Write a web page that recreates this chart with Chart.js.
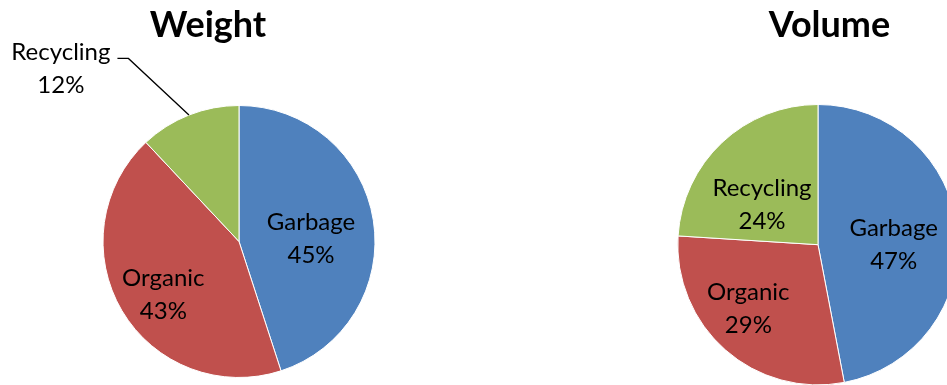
<!DOCTYPE html>
<html>
<head>
<meta charset="utf-8">
<script src="https://cdn.jsdelivr.net/npm/chart.js@4.4.0/dist/chart.umd.min.js"></script>
<style>
  html, body { margin: 0; padding: 0; background: #fff; }
  body { position: relative; width: 947px; height: 385px; overflow: hidden; }
  canvas { position: absolute; top: 0; }
  #weightChart { left: 0; }
  #volumeChart { left: 560px; }
</style>
</head>
<body>
<canvas id="weightChart" width="420" height="385"></canvas>
<canvas id="volumeChart" width="420" height="392"></canvas>
<script>
var categories = ['Garbage', 'Organic', 'Recycling'];
var weightShare = [45, 43, 12];
var volumeShare = [47, 29, 24];
var sliceColors = ['#4F81BD', '#C0504D', '#9BBB59'];

var labelFont = '24px Lato';

// title drawn at a fixed x, since the chart title plugin always centres over the pie
var panelTitle = {
  id: 'panelTitle',
  afterDraw: function (chart, args, opts) {
    var ctx = chart.ctx;
    ctx.save();
    ctx.font = 'bold 36px Lato';
    ctx.fillStyle = '#000';
    ctx.textAlign = 'center';
    ctx.textBaseline = 'alphabetic';
    ctx.fillText(opts.text, opts.x, opts.y);
    ctx.restore();
  }
};

// "Name NN%" labels inside the slices, or outside with a leader line
var sliceLabels = {
  id: 'sliceLabels',
  afterDatasetsDraw: function (chart, args, opts) {
    var ctx = chart.ctx;
    var meta = chart.getDatasetMeta(0);
    var values = chart.data.datasets[0].data;
    var total = values.reduce(function (a, b) { return a + b; }, 0);
    ctx.save();
    ctx.font = labelFont;
    ctx.fillStyle = '#000';
    ctx.textAlign = 'center';
    ctx.textBaseline = 'middle';
    meta.data.forEach(function (arc, i) {
      var p = arc.getProps(['x', 'y', 'startAngle', 'endAngle', 'outerRadius'], true);
      var mid = (p.startAngle + p.endAngle) / 2;
      var lines = [chart.data.labels[i], Math.round(values[i] / total * 100) + '%'];
      var place = opts.placement[i];
      if (place.callout) {
        var ex = p.x + Math.cos(mid) * p.outerRadius;
        var ey = p.y + Math.sin(mid) * p.outerRadius;
        var bx = ex + place.callout.dx;
        var by = ey + place.callout.dy;
        var tx = bx - place.callout.tail;
        ctx.strokeStyle = '#000';
        ctx.lineWidth = 1.3;
        ctx.beginPath();
        ctx.moveTo(ex, ey);
        ctx.lineTo(bx, by);
        ctx.lineTo(tx, by);
        ctx.stroke();
        var w = Math.max(ctx.measureText(lines[0]).width, ctx.measureText(lines[1]).width);
        var cx = tx - 7 - w / 2;
        ctx.fillText(lines[0], cx, by - 6);
        ctx.fillText(lines[1], cx, by - 6 + opts.lineGap);
        return;
      }
      var a = mid + place.turn * Math.PI / 180;
      var d = p.outerRadius * place.r;
      var lx = p.x + Math.cos(a) * d;
      var ly = p.y + Math.sin(a) * d;
      ctx.fillText(lines[0], lx, ly - opts.lineGap / 2);
      ctx.fillText(lines[1], lx, ly + opts.lineGap / 2);
    });
    ctx.restore();
  }
};

function makePie(id, values, title, padding, placement) {
  return new Chart(document.getElementById(id), {
    type: 'pie',
    data: {
      labels: categories,
      datasets: [{
        data: values,
        backgroundColor: sliceColors,
        borderColor: '#ffffff',
        borderWidth: 1
      }]
    },
    options: {
      responsive: false,
      animation: false,
      events: [],
      layout: { padding: padding },
      plugins: {
        legend: { display: false },
        tooltip: { enabled: false },
        panelTitle: title,
        sliceLabels: { lineGap: 33, placement: placement }
      }
    },
    plugins: [panelTitle, sliceLabels]
  });
}

makePie('weightChart', weightShare,
  { text: 'Weight', x: 208, y: 37 },
  { left: 102.5, right: 44.5, top: 105, bottom: 7 },
  [
    { r: 0.53, turn: 6.6 },
    { r: 0.68, turn: -4.5 },
    { callout: { dx: -60.5, dy: -56.6, tail: 11 } }
  ]);

makePie('volumeChart', volumeShare,
  { text: 'Volume', x: 269.5, y: 37 },
  { left: 117.3, right: 21.3, top: 104, bottom: 6.6 },
  [
    { r: 0.54, turn: 5.4 },
    { r: 0.675, turn: 6 },
    { r: 0.49, turn: -11.4 }
  ]);
</script>
</body>
</html>
